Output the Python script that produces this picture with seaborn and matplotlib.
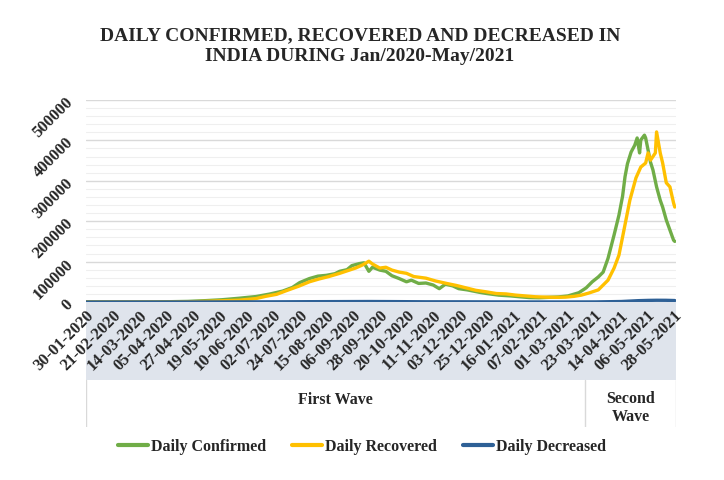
import numpy as np
import pandas as pd
import matplotlib
matplotlib.use('Agg')
import matplotlib.pyplot as plt
from matplotlib.ticker import MultipleLocator, FuncFormatter
import seaborn as sns

# values (dd-mm-yyyy)
conf_dates = ['30-01-2020', '13-02-2020', '27-02-2020', '12-03-2020', '26-03-2020', '02-04-2020',
              '09-04-2020', '23-04-2020', '07-05-2020', '21-05-2020', '04-06-2020', '18-06-2020',
              '29-06-2020', '10-07-2020', '18-07-2020', '24-07-2020', '01-08-2020', '08-08-2020',
              '15-08-2020', '22-08-2020', '26-08-2020', '01-09-2020', '05-09-2020', '11-09-2020',
              '15-09-2020', '19-09-2020', '22-09-2020', '28-09-2020', '03-10-2020', '08-10-2020',
              '14-10-2020', '20-10-2020', '24-10-2020', '30-10-2020', '05-11-2020', '11-11-2020',
              '16-11-2020', '21-11-2020', '27-11-2020', '02-12-2020', '09-12-2020', '19-12-2020',
              '25-12-2020', '04-01-2021', '14-01-2021', '21-01-2021', '29-01-2021', '06-02-2021',
              '14-02-2021', '22-02-2021', '02-03-2021', '11-03-2021', '17-03-2021', '22-03-2021',
              '27-03-2021', '31-03-2021', '04-04-2021', '09-04-2021', '13-04-2021', '16-04-2021',
              '18-04-2021', '20-04-2021', '23-04-2021', '26-04-2021', '28-04-2021', '30-04-2021',
              '01-05-2021', '04-05-2021', '05-05-2021', '07-05-2021', '09-05-2021', '11-05-2021',
              '14-05-2021', '17-05-2021', '19-05-2021', '22-05-2021', '25-05-2021', '28-05-2021',
              '29-05-2021']
conf_vals = [1, 0, 0, 10, 90, 500,
             800, 1500, 3300, 5600, 9300, 13500,
             19500, 27000, 36000, 48000, 58000, 64000,
             66000, 70000, 76000, 80000, 90000, 95000,
             97000, 76000, 86000, 79000, 76000, 65000,
             58000, 50000, 54000, 46000, 47000, 42000,
             33000, 44000, 40000, 33000, 30000, 24000,
             21000, 17000, 15000, 13000, 11000, 10500,
             11500, 12500, 15000, 23000, 35000, 50000,
             62000, 74000, 108000, 166000, 215000, 262000,
             310000, 342000, 371000, 388000, 406000, 369000,
             401000, 413000, 406000, 376000, 346000, 327000,
             285000, 252000, 235000, 203000, 178000, 153000,
             150000]

rec_dates = ['30-01-2020', '27-02-2020', '26-03-2020', '09-04-2020', '23-04-2020', '07-05-2020',
             '21-05-2020', '04-06-2020', '18-06-2020', '26-06-2020', '05-07-2020', '13-07-2020',
             '24-07-2020', '01-08-2020', '09-08-2020', '17-08-2020', '26-08-2020', '02-09-2020',
             '08-09-2020', '14-09-2020', '19-09-2020', '22-09-2020', '28-09-2020', '03-10-2020',
             '08-10-2020', '14-10-2020', '20-10-2020', '26-10-2020', '05-11-2020', '13-11-2020',
             '22-11-2020', '30-11-2020', '08-12-2020', '16-12-2020', '25-12-2020', '02-01-2021',
             '10-01-2021', '18-01-2021', '26-01-2021', '03-02-2021', '12-02-2021', '20-02-2021',
             '28-02-2021', '07-03-2021', '13-03-2021', '19-03-2021', '27-03-2021', '04-04-2021',
             '09-04-2021', '13-04-2021', '16-04-2021', '22-04-2021', '27-04-2021', '01-05-2021',
             '05-05-2021', '07-05-2021', '09-05-2021', '13-05-2021', '14-05-2021', '17-05-2021',
             '19-05-2021', '22-05-2021', '25-05-2021', '28-05-2021', '29-05-2021']
rec_vals = [0, 0, 10, 100, 500, 1500,
            3000, 4500, 8500, 14000, 19000, 28000,
            40000, 50000, 57000, 63000, 71000, 78000,
            84000, 92000, 101000, 94000, 84000, 86000,
            79000, 74000, 71000, 63000, 59000, 52000,
            46000, 41000, 35000, 29000, 25000, 21000,
            20000, 17000, 15000, 13000, 12000, 11500,
            12000, 14000, 17000, 22000, 30000, 54000,
            84000, 116000, 161000, 252000, 307000, 334000,
            344000, 369000, 351000, 369000, 421000, 369000,
            344000, 295000, 285000, 245000, 235000]

dec_dates = ['30-01-2020', '09-04-2020', '07-05-2020', '04-06-2020', '02-07-2020', '01-08-2020',
             '27-08-2020', '19-09-2020', '08-10-2020', '05-11-2020', '03-12-2020', '31-12-2020',
             '28-01-2021', '25-02-2021', '25-03-2021', '15-04-2021', '29-04-2021', '07-05-2021',
             '14-05-2021', '22-05-2021', '29-05-2021']
dec_vals = [0, 30, 100, 300, 450, 800,
            1000, 1200, 1000, 550, 500, 300,
            150, 110, 250, 1200, 3300, 4000,
            4300, 4200, 3600]

series_names = ['Daily Confirmed', 'Daily Recovered', 'Daily Decreased']
series_colors = ['#70ad47', '#ffc000', '#2e6096']
wave_labels = ['First Wave', 'Second\nWave']
second_wave_start = '16-03-2021'
title = 'DAILY CONFIRMED, RECOVERED AND DECREASED IN\nINDIA DURING Jan/2020-May/2021'


def to_df(dates, vals, name):
    return pd.DataFrame({'date': pd.to_datetime(dates, format='%d-%m-%Y'),
                         'value': vals, 'series': name})


df = pd.concat([to_df(conf_dates, conf_vals, series_names[0]),
                to_df(rec_dates, rec_vals, series_names[1]),
                to_df(dec_dates, dec_vals, series_names[2])], ignore_index=True)

sns.set_theme(style='white')
plt.rcParams['font.family'] = ['Liberation Serif', 'DejaVu Serif']
plt.rcParams['font.weight'] = 'bold'

fig = plt.figure(figsize=(7.24, 4.8), dpi=100)
L, R = 86 / 724, 676 / 724
ax = fig.add_axes([L, 1 - 302 / 480, R - L, 202 / 480])
band = fig.add_axes([L, 1 - 427 / 480, R - L, 125 / 480], sharex=ax)
band.set_zorder(0)
ax.set_zorder(1)

x0 = pd.Timestamp('2020-01-30')
x1 = pd.Timestamp('2021-05-30')

# grey category band under the axis + the two wave boxes
band.axis('off')
band.axvspan(x0, x1, ymin=0.376, ymax=1, color='#dfe4ec', lw=0)
sw = pd.to_datetime(second_wave_start, format='%d-%m-%Y')
for xv in [x0, sw, x1]:
    band.axvline(xv, ymin=0, ymax=0.376, color='#d9d9d9', lw=1)
band.set_ylim(0, 1)
band.text(x0 + (sw - x0) / 2, 0.215, wave_labels[0], ha='center', va='center',
          fontsize=11.5, fontweight='bold')
band.text(sw + (x1 - sw) / 2, 0.155, wave_labels[1], ha='center', va='center',
          fontsize=11.5, fontweight='bold', linespacing=1.15)

sns.lineplot(data=df, x='date', y='value', hue='series', palette=series_colors,
             hue_order=series_names, estimator=None, sort=True, linewidth=2.4, ax=ax)

ax.set_xlim(x0, x1)
ax.set_ylim(0, 500000)
for s in ax.spines.values():
    s.set_visible(False)
ax.yaxis.set_major_locator(MultipleLocator(100000))
ax.yaxis.set_minor_locator(MultipleLocator(20000))
ax.grid(True, which='major', axis='y', color='#d9d9d9', lw=1)
ax.grid(True, which='minor', axis='y', color='#efefef', lw=0.8)
ax.set_axisbelow(True)
ax.yaxis.set_major_formatter(FuncFormatter(lambda v, p: f'{int(v)}'))

xticks = pd.date_range(x0, periods=23, freq='22D')
ax.set_xticks(xticks)
ax.set_xticklabels([d.strftime('%d-%m-%Y') for d in xticks])
ax.tick_params(axis='x', length=0, pad=4, labelsize=12)
ax.tick_params(axis='y', length=0, pad=11, labelsize=12)
for lab in ax.get_xticklabels():
    lab.set_rotation(45)
    lab.set_ha('right')
    lab.set_va('top')
    lab.set_rotation_mode('anchor')
    lab.set_fontweight('bold')
for lab in ax.get_yticklabels():
    lab.set_rotation(45)
    lab.set_ha('right')
    lab.set_va('center')
    lab.set_rotation_mode('anchor')
    lab.set_fontweight('bold')
ax.set_xlabel('')
ax.set_ylabel('')

handles, labels = ax.get_legend_handles_labels()
ax.get_legend().remove()
for h in handles:
    h.set_linewidth(3)
fig.legend(handles, labels, loc='center', bbox_to_anchor=(0.5, 1 - 447 / 480), ncol=3,
           frameon=False, handlelength=1.9, handletextpad=0.2, columnspacing=1.6,
           prop={'size': 11.5, 'weight': 'bold'})

fig.text(0.497, 1 - 46 / 480, title, ha='center', va='center', fontsize=14,
         fontweight='bold', linespacing=1.3)

fig.savefig('out.png', dpi=100)
